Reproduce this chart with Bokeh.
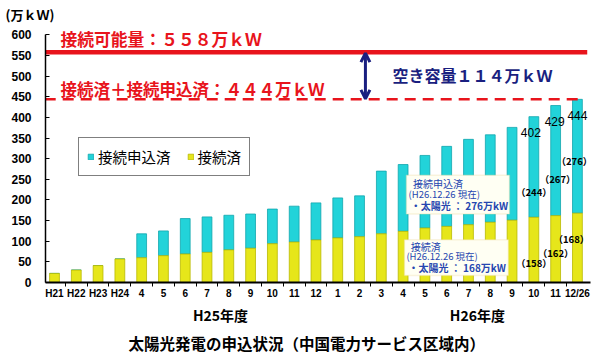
from bokeh.plotting import figure
from bokeh.models import (ColumnDataSource, Range1d, FixedTicker, Label, BoxAnnotation,
                          Arrow, OpenHead, Legend, LegendItem, LinearAxis, Title)
from bokeh.core.properties import value
from bokeh.embed import file_html
from bokeh.resources import INLINE

# ---------------- data ----------------
tick_labels = ["H21", "H22", "H23", "H24",
               "4", "5", "6", "7", "8", "9", "10", "11", "12", "1", "2", "3",
               "4", "5", "6", "7", "8", "9", "10", "11", "12/26"]
connected = [22, 30, 41, 57,
             60, 65, 69, 73, 79, 83, 94, 98, 103, 108, 111, 118,
             124, 132, 136, 140, 146, 151, 158, 162, 168]
total = [22, 30, 41, 57,
         118, 125, 155, 159, 163, 166, 178, 185, 193, 205, 210, 270,
         286, 308, 330, 347, 358, 376, 402, 429, 444]
fiscal_years = ["H25年度", "H26年度"]
capacity = 558
committed = 444

applied = [t - c for t, c in zip(total, connected)]
xs = list(range(len(tick_labels)))

JP = "Noto Sans CJK JP"
RED = "#e8141c"
NAVY = "#1a1f80"
BLUE = "#2646b0"

p = figure(width=595, height=355, output_backend="svg", toolbar_location=None,
           x_range=Range1d(-0.413, 24.6), y_range=Range1d(0, 623),
           min_border_left=45, min_border_right=5, min_border_top=0, min_border_bottom=0)
p.outline_line_color = None
p.xgrid.visible = False
p.ygrid.visible = False
p.background_fill_color = "white"
p.border_fill_color = "white"

src = ColumnDataSource(dict(x=xs, connected=connected, total=total, applied=applied))
r_app = p.vbar(x="x", bottom="connected", top="total", width=0.45, source=src,
               fill_color="#22d3d9", line_color="#12a6ad", line_width=0.8)
r_con = p.vbar(x="x", bottom=0, top="connected", width=0.45, source=src,
               fill_color="#e6e61a", line_color="#b9b900", line_width=0.8)

# threshold lines
p.segment(x0=[-0.45], x1=[24.45], y0=[capacity], y1=[capacity], line_color=RED, line_width=4.5)
p.segment(x0=[-0.45], x1=[24.3], y0=[committed], y1=[committed], line_color=RED,
          line_width=2.5, line_dash="11 7")

# axes
p.yaxis.ticker = FixedTicker(ticks=list(range(0, 601, 50)))
p.yaxis.bounds = (0, 600)
p.yaxis.major_tick_in = 4
p.yaxis.major_tick_out = 0
p.yaxis.minor_tick_out = 0
p.yaxis.minor_tick_in = 0
p.yaxis.axis_line_width = 1.5
p.yaxis.major_label_standoff = 14
p.yaxis.major_label_text_font = "Liberation Sans"
p.yaxis.major_label_text_font_style = "bold"
p.yaxis.major_label_text_font_size = "12px"
p.yaxis.major_label_text_color = "black"

p.xaxis.ticker = FixedTicker(ticks=xs, minor_ticks=[i + 0.5 for i in xs[:-1]])
p.xaxis.major_label_overrides = {i: t for i, t in zip(xs, tick_labels)}
p.xaxis.major_tick_in = 0
p.xaxis.major_tick_out = 0
p.xaxis.minor_tick_out = 4
p.xaxis.minor_tick_in = 0
p.xaxis.axis_line_width = 2
p.xaxis.major_label_standoff = 1
p.xaxis.major_label_text_font = "Liberation Sans"
p.xaxis.major_label_text_font_style = "bold"
p.xaxis.major_label_text_font_size = "10px"
p.xaxis.major_label_text_color = "black"

# fiscal-year axis (second row under the month labels)
fy_pos = [7.62, 19.41]
fy_axis = LinearAxis(ticker=FixedTicker(ticks=fy_pos),
                     major_label_overrides={k: v for k, v in zip(fy_pos, fiscal_years)},
                     axis_line_color=None, major_tick_in=0, major_tick_out=0,
                     minor_tick_in=0, minor_tick_out=0, major_label_standoff=3,
                     major_label_text_font=JP, major_label_text_font_size="14px",
                     major_label_text_font_style="bold", major_label_text_color="black")
p.add_layout(fy_axis, "below")

p.add_layout(Title(text="太陽光発電の申込状況（中国電力サービス区域内）", align="left", offset=83,
                   text_font=JP, text_font_size="15.5px", text_font_style="bold",
                   text_color="black", standoff=4), "below")
p.add_layout(Title(text="(万ｋＷ)", align="left", offset=-40, text_font=JP,
                   text_font_size="13px", text_font_style="bold", text_color="black",
                   standoff=4), "above")

# total labels on last three bars
n = 3
lab_src = ColumnDataSource(dict(x=xs[-n:], y=total[-n:], t=[str(v) for v in total[-n:]],
                                xo=[-3, -1, 0]))
p.text(x="x", y="y", text="t", source=lab_src, x_offset="xo", y_offset=16,
       text_align="center", text_baseline="middle", text_font=value("Liberation Sans"),
       text_font_size="12px", text_color="black")

# parenthetical labels (label placement offsets in px)
app_src = ColumnDataSource(dict(x=xs[-n:], y=total[-n:],
                                t=["（%d）" % v for v in applied[-n:]],
                                yo=[75, 73, 62], xo=[0, 2, -3]))
p.text(x="x", y="y", text="t", source=app_src, x_offset="xo", y_offset="yo",
       text_align="center", text_baseline="middle", text_font=value(JP),
       text_font_size="9.5px", text_font_style="bold", text_color="black")
con_src = ColumnDataSource(dict(x=xs[-n:], y=connected[-n:],
                                t=["（%d）" % v for v in connected[-n:]],
                                yo=[46, 37, 26], xo=[0, 0, -6]))
p.text(x="x", y="y", text="t", source=con_src, x_offset="xo", y_offset="yo",
       text_align="center", text_baseline="middle", text_font=value(JP),
       text_font_size="9.5px", text_font_style="bold", text_color="black")

# big annotations
p.add_layout(Label(x=0.275, y=589.6, text="接続可能量：５５８万ｋＷ", text_font=JP,
                   text_font_size="16.8px", text_font_style="bold", text_color=RED,
                   text_baseline="middle"))
p.add_layout(Label(x=0.275, y=469, text="接続済＋接続申込済：４４４万ｋＷ", text_font=JP,
                   text_font_size="16.5px", text_font_style="bold", text_color=RED,
                   text_baseline="middle"))
p.add_layout(Label(x=15.51, y=503, text="空き容量１１４万ｋＷ", text_font=JP,
                   text_font_size="16px", text_font_style="bold", text_color=NAVY,
                   text_baseline="middle"))
p.add_layout(Arrow(x_start=14.27, y_start=committed + 1, x_end=14.27, y_end=capacity - 2,
                   line_color=NAVY, line_width=3,
                   start=OpenHead(size=9, line_color=NAVY, line_width=3),
                   end=OpenHead(size=9, line_color=NAVY, line_width=3)))

# info boxes
box_fill = "#fffff3"
box_line = "#ecd79a"
p.add_layout(BoxAnnotation(left=16.15, right=20.88, bottom=166, top=260,
                           fill_color=box_fill, fill_alpha=1, line_color=box_line, line_width=1.5))
p.add_layout(BoxAnnotation(left=16.06, right=20.83, bottom=16.8, top=103.5,
                           fill_color=box_fill, fill_alpha=1, line_color=box_line, line_width=1.5))
info = [
    (16.45, 240, "接続申込済", "10px", "normal"),
    (16.25, 214, "(H26.12.26 現在)", "9.5px", "normal"),
    (16.35, 186, "・太陽光 ： %d万kW" % applied[-1], "10px", "bold"),
    (16.35, 87, "接続済", "10px", "normal"),
    (16.15, 65, "(H26.12.26 現在)", "9.5px", "normal"),
    (16.25, 36, "・太陽光 ： %d万kW" % connected[-1], "10px", "bold"),
]
for x, y, t, fs, st in info:
    p.add_layout(Label(x=x, y=y, text=t, text_font=JP, text_font_size=fs,
                       text_font_style=st, text_color=BLUE, text_baseline="middle"))

# legend
legend = Legend(items=[LegendItem(label="接続申込済", renderers=[r_app]),
                       LegendItem(label="接続済", renderers=[r_con])],
                orientation="horizontal", location=(33, 106),
                label_text_font=JP, label_text_font_size="14.5px", label_text_color="black",
                glyph_width=7, glyph_height=7, label_standoff=4, spacing=16,
                padding=8, margin=0, border_line_color="black", border_line_width=1.5,
                background_fill_alpha=1)
p.add_layout(legend, "center")

open("out.html", "w").write(file_html(p, INLINE))
